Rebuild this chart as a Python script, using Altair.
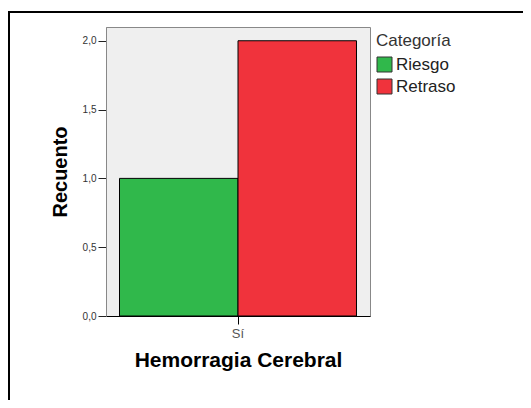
import altair as alt
import pandas as pd

groups = ["Sí", "Sí"]
categories = ["Riesgo", "Retraso"]
counts = [1, 2]
colors = ["#30b84b", "#f0333c"]
y_ticks = [0, 0.5, 1.0, 1.5, 2.0]

df = pd.DataFrame({"grupo": groups, "categoria": categories, "recuento": counts})

bars = alt.Chart(df).mark_bar(stroke="#000000", strokeWidth=1, opacity=1).encode(
    x=alt.X("grupo:N",
            scale=alt.Scale(paddingInner=0, paddingOuter=0.057),
            axis=alt.Axis(title="Hemorragia Cerebral", labelAngle=0, labelFontSize=13,
                          labelColor="#555555", labelFont="Liberation Sans",
                          tickSize=8, tickColor="#000000", domainColor="#000000",
                          labelPadding=3, titleFontSize=21, titleFont="Liberation Sans",
                          titleFontWeight="bold", titleColor="#000000", titlePadding=9)),
    xOffset=alt.XOffset("categoria:N", sort=categories, scale=alt.Scale(paddingInner=0, paddingOuter=0)),
    y=alt.Y("recuento:Q",
            scale=alt.Scale(domain=[0, 2.1], nice=False),
            axis=alt.Axis(title="Recuento", values=y_ticks, grid=False,
                          labelExpr="replace(format(datum.value, '.1f'), '.', ',')",
                          labelFontSize=10, labelColor="#333333", labelFont="Liberation Sans",
                          tickSize=8, tickColor="#222222", domainColor="#888888",
                          labelPadding=2, titleFontSize=20, titleFont="Liberation Sans",
                          titleFontWeight="bold", titleColor="#000000", titlePadding=12)),
    color=alt.Color("categoria:N", sort=categories,
                    scale=alt.Scale(domain=categories, range=colors),
                    legend=alt.Legend(title="Categoría", orient="none", legendX=270, legendY=6,
                                      symbolType="square", symbolSize=225,
                                      symbolStrokeColor="#333333", symbolStrokeWidth=1,
                                      labelFontSize=17, labelFont="Liberation Sans", labelColor="#222222",
                                      titleFontSize=17, titleFont="Liberation Sans",
                                      titleFontWeight="normal", titleColor="#333333",
                                      titlePadding=6, rowPadding=3, labelOffset=3)),
)

top_line = alt.Chart(df).mark_rule(color="#000000", strokeWidth=2).encode(
    x=alt.value(-98), x2=alt.value(440), y=alt.value(-15))
left_line = alt.Chart(df).mark_rule(color="#000000", strokeWidth=2).encode(
    x=alt.value(-97), y=alt.value(-16), y2=alt.value(400))

chart = alt.layer(bars, top_line, left_line).properties(
    width=264, height=289,
    autosize=alt.AutoSizeParams(type="none"),
    padding={"left": 98, "top": 19, "right": 153, "bottom": 84},
    background="#ffffff",
).configure_view(fill="#efefef", stroke="#888888", strokeWidth=1)

chart.save("out.html", embed_options={"renderer": "svg", "actions": False})
